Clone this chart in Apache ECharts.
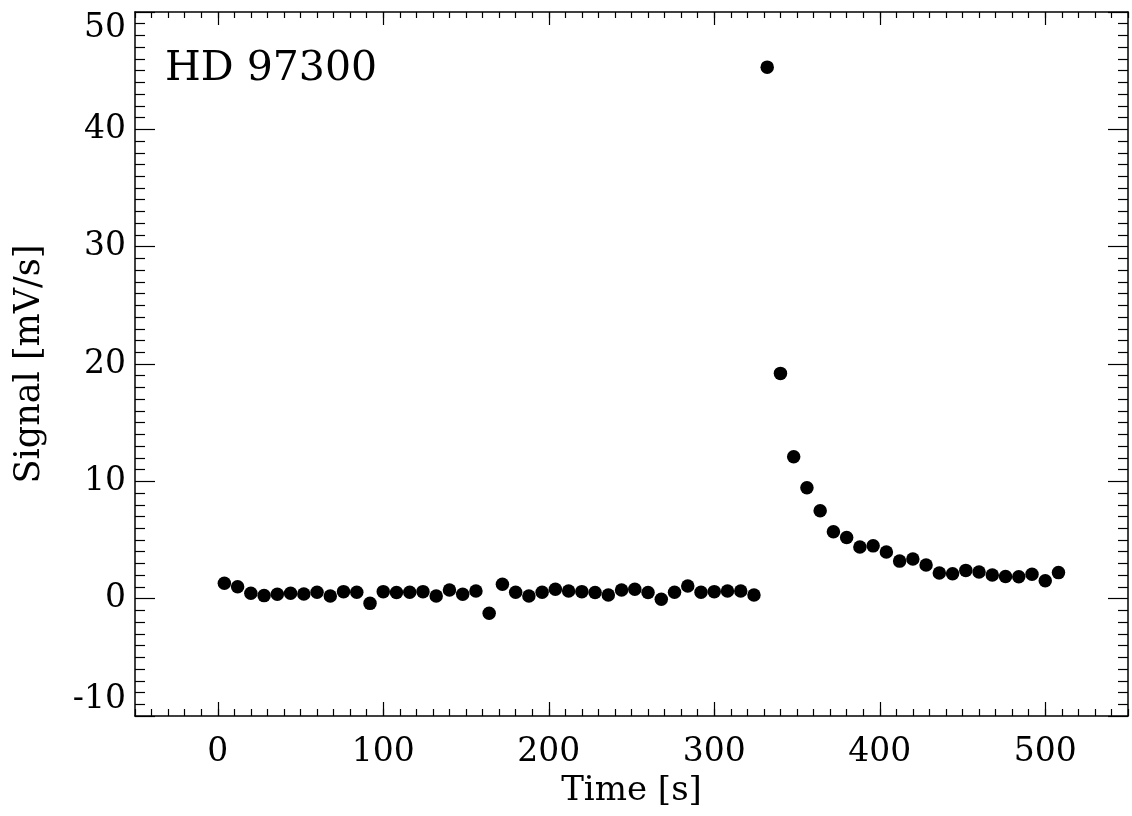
<!DOCTYPE html>
<html>
<head>
<meta charset="utf-8">
<script src="https://cdn.jsdelivr.net/npm/echarts@6/dist/echarts.min.js"></script>
<style>
html,body{margin:0;padding:0;background:#fff;}
#chart{width:1132px;height:816px;}
</style>
</head>
<body>
<div id="chart"></div>
<script>
// Data
const times = [4,12,20,28,36,44,52,60,68,76,84,92,100,108,116,124,132,140,148,156,164,172,180,188,196,204,212,220,228,236,244,252,260,268,276,284,292,300,308,316,324,332,340,348,356,364,372,380,388,396,404,412,420,428,436,444,452,460,468,476,484,492,500,508];
const signal = [1.31,1.02,0.46,0.26,0.37,0.46,0.40,0.55,0.23,0.60,0.55,-0.40,0.60,0.52,0.55,0.60,0.23,0.74,0.37,0.66,-1.25,1.22,0.55,0.23,0.55,0.80,0.66,0.60,0.52,0.31,0.74,0.80,0.52,-0.05,0.55,1.08,0.55,0.60,0.66,0.66,0.31,45.3,19.2,12.1,9.45,7.5,5.7,5.22,4.4,4.5,3.98,3.2,3.38,2.87,2.18,2.12,2.41,2.28,2.02,1.89,1.86,2.08,1.53,2.22];
const xMajorTicks = [0,100,200,300,400,500];
const yTickLabels = [-10,0,10,20,30,40,50];
const labelText = 'HD 97300';
const xTitle = 'Time [s]';
const yTitle = 'Signal [mV/s]';

const points = times.map((t, i) => [t, signal[i]]);
const FONT = 'DejaVu Serif';
const lineStyle = {color:'#000', width:1.5};
const tickStyle = {color:'#000', width:1.2};

const chart = echarts.init(document.getElementById('chart'), null, {renderer:'canvas'});
chart.setOption({
  animation:false,
  backgroundColor:'#fff',
  title:{
    text:labelText, left:160, top:44,
    textStyle:{fontFamily:FONT, fontSize:41, fontWeight:'normal', color:'#000'}
  },
  grid:{left:135, right:4, top:12, bottom:100, containLabel:false, outerBoundsMode:'none'},
  xAxis:[
    {type:'value', position:'bottom', min:-50, max:550, interval:10,
     axisLine:{show:true, onZero:false, lineStyle:lineStyle},
     axisTick:{show:true, inside:true, length:7, lineStyle:tickStyle},
     axisLabel:{show:false}, splitLine:{show:false}},
    {type:'value', position:'bottom', min:-50, max:550,
     axisLine:{show:false, onZero:false},
     axisTick:{show:true, inside:true, length:14, customValues:xMajorTicks, lineStyle:tickStyle},
     axisLabel:{show:true, customValues:xMajorTicks, margin:20, fontFamily:FONT, fontSize:33, lineHeight:33, color:'#000'},
     name:xTitle, nameLocation:'middle', nameGap:54,
     nameTextStyle:{fontFamily:FONT, fontSize:34, lineHeight:34, color:'#000'},
     splitLine:{show:false}},
    {type:'value', position:'top', min:-50, max:550, interval:10,
     axisLine:{show:true, onZero:false, lineStyle:lineStyle},
     axisTick:{show:true, inside:true, length:6, lineStyle:tickStyle},
     axisLabel:{show:false}, splitLine:{show:false}},
    {type:'value', position:'top', min:-50, max:550,
     axisLine:{show:false, onZero:false},
     axisTick:{show:true, inside:true, length:13, customValues:xMajorTicks, lineStyle:tickStyle},
     axisLabel:{show:false}, splitLine:{show:false}}
  ],
  yAxis:[
    {type:'value', position:'left', min:yTickLabels[0], max:yTickLabels[yTickLabels.length-1], interval:10,
     axisLine:{show:true, onZero:false, lineStyle:lineStyle},
     axisTick:{show:true, inside:true, length:20, lineStyle:tickStyle},
     minorTick:{show:true, splitNumber:10, length:10, lineStyle:tickStyle},
     axisLabel:{show:true, margin:9, fontFamily:FONT, fontSize:33, lineHeight:33, color:'#000',
       verticalAlignMinLabel:'bottom', verticalAlignMaxLabel:'top'},
     name:yTitle, nameLocation:'middle', nameGap:88,
     nameTextStyle:{fontFamily:FONT, fontSize:35, lineHeight:35, color:'#000'},
     splitLine:{show:false}, minorSplitLine:{show:false}},
    {type:'value', position:'right', min:yTickLabels[0], max:yTickLabels[yTickLabels.length-1], interval:10,
     axisLine:{show:true, onZero:false, lineStyle:lineStyle},
     axisTick:{show:true, inside:true, length:20, lineStyle:tickStyle},
     minorTick:{show:true, splitNumber:10, length:10, lineStyle:tickStyle},
     axisLabel:{show:false}, splitLine:{show:false}, minorSplitLine:{show:false}}
  ],
  series:[{
    type:'scatter', xAxisIndex:0, yAxisIndex:0,
    data:points, symbol:'circle', symbolSize:13.5,
    itemStyle:{color:'#000', opacity:1}
  }]
});
</script>
</body>
</html>
